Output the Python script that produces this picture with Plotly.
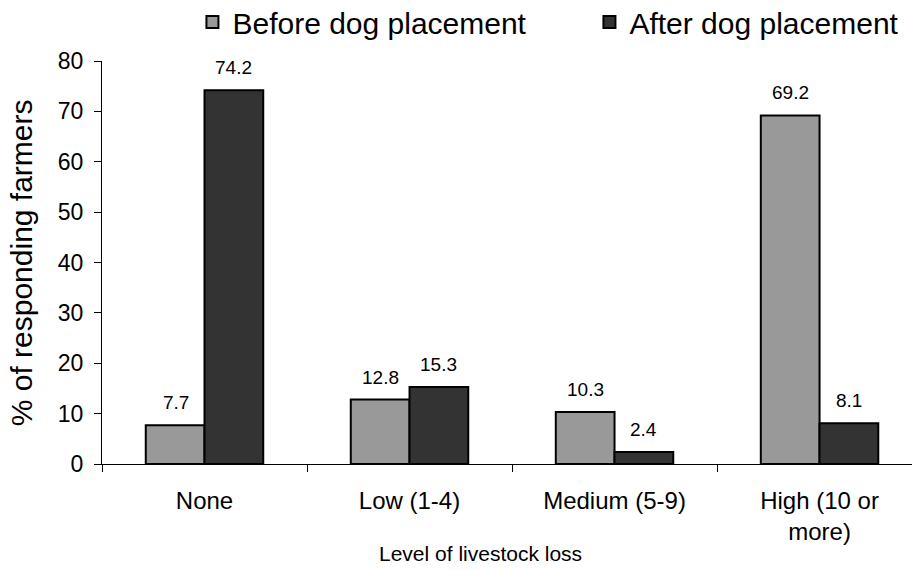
import plotly.graph_objects as go

categories = ["None", "Low (1-4)", "Medium (5-9)", "High (10 or<br>more)"]
before = [7.7, 12.8, 10.3, 69.2]
after = [74.2, 15.3, 2.4, 8.1]
series_names = ["Before dog placement", "After dog placement"]
y_ticks = [0, 10, 20, 30, 40, 50, 60, 70, 80]

FONT = "Liberation Sans, Arial, Helvetica, sans-serif"

fig = go.Figure()
fig.add_trace(go.Bar(x=categories, y=before, name=series_names[0],
                     marker=dict(color="#999999", line=dict(color="#000000", width=2))))
fig.add_trace(go.Bar(x=categories, y=after, name=series_names[1],
                     marker=dict(color="#333333", line=dict(color="#000000", width=2))))

# value labels
BAR_PX = 29
for vals, shift in ((before, -BAR_PX), (after, BAR_PX)):
    for c, v in zip(categories, vals):
        fig.add_annotation(x=c, y=v, text=f"{v:.1f}", showarrow=False,
                           xshift=shift, yshift=10, yanchor="bottom",
                           font=dict(size=19, color="#000000", family=FONT))

fig.add_annotation(xref="paper", yref="paper", x=0.4667, y=-0.255,
                   text="Level of livestock loss", showarrow=False,
                   font=dict(size=21, color="#000000", family=FONT))
fig.add_annotation(xref="paper", yref="paper", x=-0.099, y=0.5, textangle=-90,
                   xanchor="center", yanchor="middle",
                   text="% of responding farmers", showarrow=False,
                   font=dict(size=30, color="#000000", family=FONT))

fig.update_layout(
    width=912, height=570,
    margin=dict(l=102, r=0, t=61, b=106, autoexpand=False),
    paper_bgcolor="white", plot_bgcolor="white",
    barmode="group", bargap=0.427, bargroupgap=0,
    font=dict(family=FONT, color="#000000"),
    showlegend=True,
    legend=dict(orientation="h", x=0.211, y=1.0968, xref="container", yref="paper",
                xanchor="left", yanchor="middle",
                font=dict(size=30, family=FONT, color="#000000"),
                entrywidth=352, entrywidthmode="pixels",
                bgcolor="rgba(0,0,0,0)"),
    xaxis=dict(range=[-0.5, 3.451], showline=True, linecolor="#000000", linewidth=1,
               ticks="outside", tickson="boundaries", ticklen=7, tickcolor="#000000",
               tickfont=dict(size=24, family=FONT, color="#000000"),
               showgrid=False, zeroline=False, ticklabelstandoff=15),
    yaxis=dict(range=[0, 80], tickvals=y_ticks, showline=True, linecolor="#000000",
               linewidth=1, ticks="outside", ticklen=7, tickcolor="#000000",
               tickfont=dict(size=23, family=FONT, color="#000000"),
               showgrid=False, zeroline=False, ticklabelstandoff=6),
)

fig.write_html("out.html", config={"displayModeBar": False},
               post_script="document.body.style.margin='0';")
